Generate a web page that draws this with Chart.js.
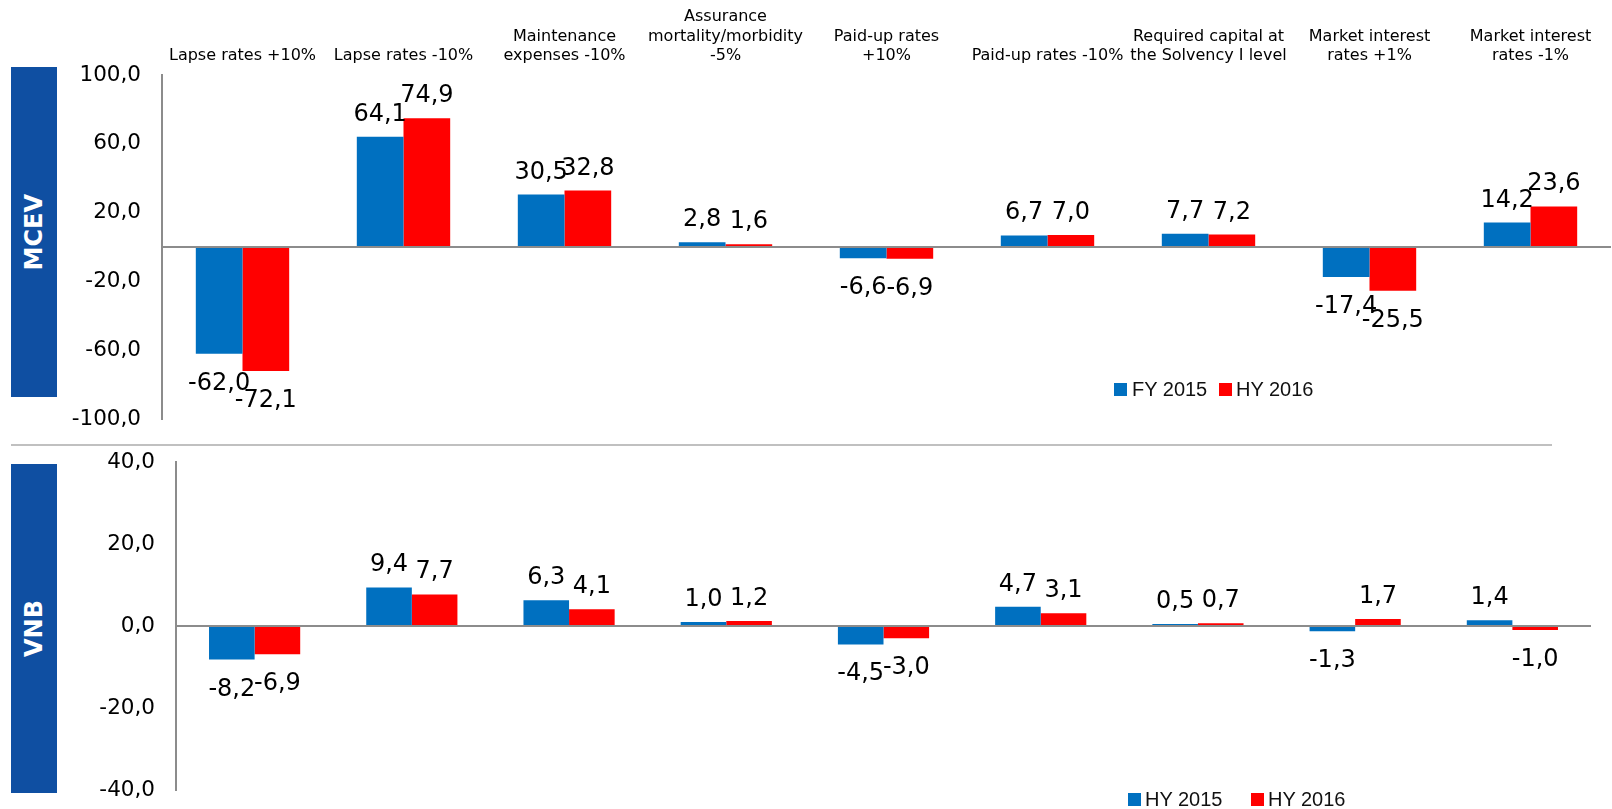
<!DOCTYPE html>
<html>
<head>
<meta charset="utf-8">
<script src="https://cdn.jsdelivr.net/npm/chart.js@4/dist/chart.umd.min.js"></script>
<style>
  body { margin: 0; background: #fff; width: 1612px; height: 809px; overflow: hidden; position: relative; }
  canvas { position: absolute; left: 0; }
  .side { position: absolute; left: 11px; width: 46px; background: #0F4FA2; display: flex; align-items: center; justify-content: center; }
  .side span { writing-mode: vertical-rl; transform: rotate(180deg); color: #fff; font: bold 24px "DejaVu Sans", sans-serif; }
  .sep { position: absolute; left: 11px; top: 444px; width: 1541px; height: 2px; background: #c0c0c0; }
  .legend { position: absolute; font: 20px "Liberation Sans", Arial, sans-serif; color: #111; line-height: 20px; }
  .legend i { position: absolute; width: 13px; height: 13px; }
</style>
</head>
<body>
<div class="side" style="top:67px;height:330px"><span>MCEV</span></div>
<div class="side" style="top:464px;height:329px"><span>VNB</span></div>
<div class="sep"></div>
<canvas id="mcevChart" width="1612" height="440" style="top:0"></canvas>
<canvas id="vnbChart" width="1612" height="369" style="top:440px"></canvas>

<div class="legend" style="left:1114px;top:379px">
  <i style="left:0;top:4px;background:#0070C0"></i><span style="position:absolute;left:18px;white-space:nowrap">FY 2015</span>
  <i style="left:105px;top:4px;background:#FF0000"></i><span style="position:absolute;left:122px;white-space:nowrap">HY 2016</span>
</div>
<div class="legend" style="left:1128px;top:789px">
  <i style="left:0;top:4px;background:#0070C0"></i><span style="position:absolute;left:17px;white-space:nowrap">HY 2015</span>
  <i style="left:123px;top:4px;background:#FF0000"></i><span style="position:absolute;left:140px;white-space:nowrap">HY 2016</span>
</div>

<script>
// ========== DATA ==========
const categories = [
    ['Lapse rates +10%'],
    ['Lapse rates -10%'],
    ['Maintenance', 'expenses -10%'],
    ['Assurance', 'mortality/morbidity', '-5%'],
    ['Paid-up rates', '+10%'],
    ['Paid-up rates -10%'],
    ['Required capital at', 'the Solvency I level'],
    ['Market interest', 'rates +1%'],
    ['Market interest', 'rates -1%']
];
const mcevFY2015 = [-62.0, 64.1, 30.5, 2.8, -6.6, 6.7, 7.7, -17.4, 14.2];
const mcevHY2016 = [-72.1, 74.9, 32.8, 1.6, -6.9, 7.0, 7.2, -25.5, 23.6];
const vnbHY2015 = [-8.2, 9.4, 6.3, 1.0, -4.5, 4.7, 0.5, -1.3, 1.4];
const vnbHY2016 = [-6.9, 7.7, 4.1, 1.2, -3.0, 3.1, 0.7, 1.7, -1.0];
const mcevTicks = [-100, -60, -20, 0, 20, 60, 100];
const vnbTicks = [-40, -20, 0, 20, 40];

const BLUE = '#0070C0';
const RED = '#FF0000';
const AXIS = '#8c8c8c';

const fmt = v => v.toFixed(1).replace('.', ',');

// ========== LABELS ON BARS ==========
const barLabels = {
    id: 'barLabels',
    afterDatasetsDraw(chart) {
        const ctx = chart.ctx;
        ctx.save();
        ctx.font = '24px "DejaVu Sans"';
        ctx.fillStyle = '#000';
        ctx.textAlign = 'center';
        ctx.textBaseline = 'alphabetic';
        chart.data.datasets.forEach((ds, i) => {
            chart.getDatasetMeta(i).data.forEach((bar, j) => {
                const v = ds.data[j];
                const y = v >= 0 ? bar.y - 16 : bar.y + 19 + 17;
                ctx.fillText(fmt(v), bar.x, y);
            });
        });
        ctx.restore();
    }
};

// no extra room for half tick labels, layout padding decides the plot area
function noPad(axis) {
    axis.paddingTop = 0;
    axis.paddingBottom = 0;
    axis.paddingLeft = 0;
    axis.paddingRight = 0;
}

function yScale(min, max, ticks, width, hideZero) {
    return {
        min: min,
        max: max,
        afterBuildTicks: axis => { axis.ticks = ticks.map(v => ({ value: v })); },
        afterFit: axis => { axis.width = width; noPad(axis); },
        border: { display: true, color: AXIS, width: 2 },
        grid: {
            drawTicks: false,
            lineWidth: 2,
            color: c => (c.tick && c.tick.value === 0) ? AXIS : 'rgba(0,0,0,0)'
        },
        ticks: {
            padding: 21,
            color: '#000',
            font: { family: 'DejaVu Sans', size: 21.5 },
            callback: v => (hideZero && v === 0) ? '' : fmt(v)
        }
    };
}

function dataset(label, data, color) {
    return {
        label: label,
        data: data,
        backgroundColor: color,
        categoryPercentage: 0.58,
        barPercentage: 1.0
    };
}

// ========== MCEV ==========
new Chart(document.getElementById('mcevChart'), {
    type: 'bar',
    data: {
        labels: categories,
        datasets: [dataset('FY 2015', mcevFY2015, BLUE), dataset('HY 2016', mcevHY2016, RED)]
    },
    options: {
        responsive: false,
        animation: false,
        devicePixelRatio: 1,
        layout: { padding: { top: 0, bottom: 21, left: 0, right: 1 } },
        plugins: { legend: { display: false }, tooltip: { enabled: false } },
        scales: {
            x: {
                position: 'top',
                afterFit: axis => { axis.height = 75; noPad(axis); },
                grid: { display: false, drawTicks: false },
                border: { display: false },
                ticks: {
                    padding: 9,
                    maxRotation: 0,
                    autoSkip: false,
                    color: '#000',
                    font: { family: 'DejaVu Sans', size: 16, lineHeight: 1.22 }
                }
            },
            y: yScale(-100, 100, mcevTicks, 162, true)
        }
    },
    plugins: [barLabels]
});

// ========== VNB ==========
new Chart(document.getElementById('vnbChart'), {
    type: 'bar',
    data: {
        labels: categories,
        datasets: [dataset('HY 2015', vnbHY2015, BLUE), dataset('HY 2016', vnbHY2016, RED)]
    },
    options: {
        responsive: false,
        animation: false,
        devicePixelRatio: 1,
        layout: { padding: { top: 22, bottom: 19, left: 0, right: 21 } },
        plugins: { legend: { display: false }, tooltip: { enabled: false } },
        scales: {
            x: { display: false },
            y: yScale(-40, 40, vnbTicks, 176, false)
        }
    },
    plugins: [barLabels]
});
</script>
</body>
</html>
